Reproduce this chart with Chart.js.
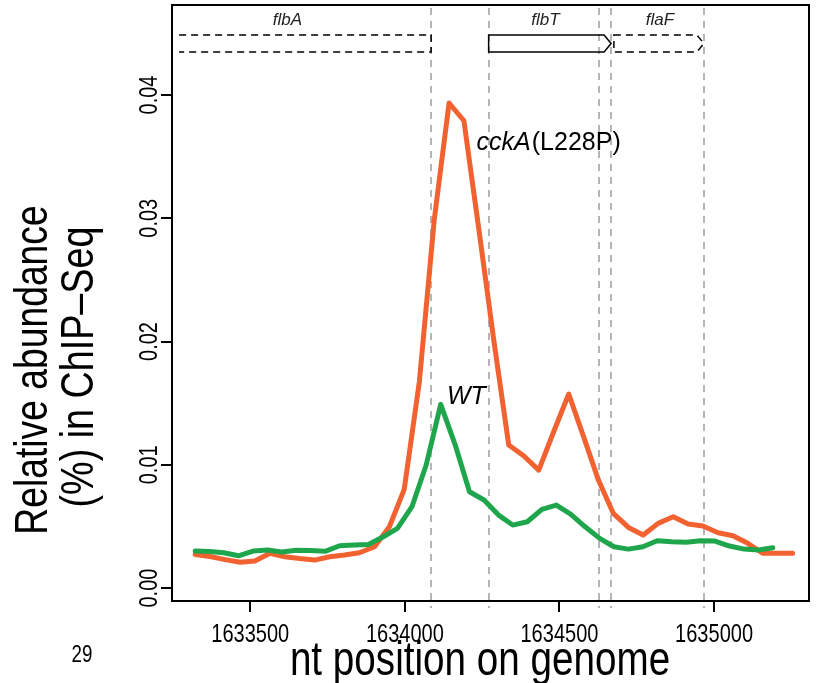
<!DOCTYPE html>
<html><head><meta charset="utf-8">
<script src="https://cdn.jsdelivr.net/npm/chart.js@4/dist/chart.umd.min.js"></script>
<style>html,body{margin:0;padding:0;background:#fff;}canvas{display:block}</style>
</head><body>
<canvas id="c" width="817" height="683"></canvas>
<script>
// ---- data ----
const wtPos = [1633322,1633369,1633415,1633462,1633509,1633556,1633602,1633649,1633696,1633742,
  1633789,1633836,1633882,1633929,1633976,1634023,1634069,1634116,1634163,1634209,
  1634256,1634303,1634349,1634396,1634443,1634490,1634536,1634583,1634630,1634676,
  1634723,1634770,1634816,1634863,1634910,1634957,1635003,1635050,1635097,1635143,1635190];
const wtVal = [0.00300,0.00296,0.00286,0.00262,0.00300,0.00308,0.00292,0.00306,0.00304,0.00298,
  0.00343,0.00349,0.00353,0.00414,0.00484,0.00660,0.00998,0.01490,0.01160,0.00781,
  0.00714,0.00592,0.00511,0.00538,0.00639,0.00673,0.00600,0.00497,0.00403,0.00335,
  0.00316,0.00335,0.00384,0.00376,0.00371,0.00384,0.00381,0.00341,0.00316,0.00308,0.00327];
const mutPos = [1633322,1633370,1633419,1633467,1633515,1633564,1633612,1633660,1633708,1633757,
  1633805,1633853,1633902,1633950,1633998,1634047,1634095,1634143,1634191,1634240,
  1634288,1634336,1634385,1634433,1634481,1634530,1634578,1634626,1634674,1634723,
  1634771,1634819,1634868,1634916,1634964,1635013,1635061,1635109,1635157,1635206,1635254];
const mutVal = [0.00273,0.00256,0.00231,0.00209,0.00219,0.00282,0.00254,0.00239,0.00227,0.00254,
  0.00268,0.00286,0.00335,0.00497,0.00801,0.01675,0.02986,0.03935,0.03791,0.02897,
  0.02004,0.01160,0.01071,0.00957,0.01266,0.01574,0.01228,0.00876,0.00606,0.00492,
  0.00430,0.00525,0.00579,0.00519,0.00503,0.00449,0.00424,0.00363,0.00282,0.00282,0.00282];
const xTicks = [1633500, 1634000, 1634500, 1635000];
const yTicks = [0, 0.01, 0.02, 0.03, 0.04];
const boundaryPos = [1634085, 1634271, 1634629, 1634667, 1634967];
const geneNames = ['flbA', 'flbT', 'flaF'];
const geneStart = [1633270, 1634271, 1634676];
const geneEnd = [1634085, 1634667, 1634967];
const geneLabelPos = [1633620, 1634455, 1634825];
const seriesNames = ['WT', 'cckA'];

const SANS = "'Liberation Sans', Arial, sans-serif";

// condensed text helper (reference uses a narrow Helvetica)
function narrowText(ctx, text, cx, cy, size, sx, rot) {
  ctx.save();
  ctx.translate(cx, cy);
  ctx.rotate(rot || 0);
  ctx.scale(sx, 1);
  ctx.font = size + 'px ' + SANS;
  ctx.fillStyle = '#000';
  ctx.textAlign = 'center';
  ctx.textBaseline = 'alphabetic';
  ctx.fillText(text, 0, 0.358 * size);
  ctx.restore();
}

const annot = {
  id: 'annot',
  beforeDatasetsDraw(chart) {
    const {ctx, chartArea: a, scales: {x, y}} = chart;
    ctx.save();
    ctx.strokeStyle = '#b5b5b5';
    ctx.lineWidth = 2;
    ctx.setLineDash([7, 6]);
    boundaryPos.forEach(p => {
      const px = Math.round(x.getPixelForValue(p));
      ctx.beginPath();
      ctx.moveTo(px, a.top + 3);
      ctx.lineTo(px, a.bottom + 7);
      ctx.stroke();
    });
    const yT = y.getPixelForValue(0.04487), yB = y.getPixelForValue(0.04349), yM = (yT + yB) / 2;
    const ah = 7;
    ctx.strokeStyle = '#000';
    ctx.lineWidth = 1.5;
    geneNames.forEach((g, i) => {
      const x1 = x.getPixelForValue(geneStart[i]);
      const x2 = x.getPixelForValue(geneEnd[i]);
      ctx.setLineDash(i === 1 ? [] : [7, 5]);
      ctx.beginPath();
      if (i === 0) {
        ctx.moveTo(x1, yT); ctx.lineTo(x2, yT); ctx.lineTo(x2, yB); ctx.lineTo(x1, yB);
      } else {
        ctx.moveTo(x1, yT); ctx.lineTo(x2 - ah, yT); ctx.lineTo(x2, yM);
        ctx.lineTo(x2 - ah, yB); ctx.lineTo(x1, yB); ctx.closePath();
      }
      ctx.stroke();
      ctx.setLineDash([]);
      ctx.fillStyle = '#222';
      ctx.font = "italic 17px " + SANS;
      ctx.textAlign = 'center';
      ctx.textBaseline = 'middle';
      ctx.fillText(g, x.getPixelForValue(geneLabelPos[i]), y.getPixelForValue(0.04608));
    });
    ctx.restore();
  },
  afterDatasetsDraw(chart) {
    const {ctx, chartArea: a, scales: {x, y}} = chart;
    ctx.save();
    ctx.fillStyle = '#000';
    ctx.textBaseline = 'alphabetic';
    ctx.textAlign = 'left';
    ctx.font = "italic 25px " + SANS;
    const px = x.getPixelForValue(1634232), py = y.getPixelForValue(0.03554);
    ctx.fillText(seriesNames[1], px, py);
    const w = ctx.measureText(seriesNames[1]).width;
    ctx.font = "25px " + SANS;
    ctx.fillText('(L228P)', px + w + 1, py);
    ctx.font = "italic 25px " + SANS;
    ctx.fillText(seriesNames[0], x.getPixelForValue(1634136), y.getPixelForValue(0.01493));
    ctx.strokeStyle = '#000';
    ctx.lineWidth = 2;
    ctx.strokeRect(a.left, a.top, a.right - a.left, a.bottom - a.top);
    ctx.restore();
  },
  afterDraw(chart) {
    const {ctx, scales: {x, y}} = chart;
    // tick labels from the library's scales
    x.ticks.forEach(t => narrowText(ctx, String(t.value), x.getPixelForValue(t.value), 633, 26, 0.77, 0));
    y.ticks.forEach(t => narrowText(ctx, Number(t.value).toFixed(2), 148, y.getPixelForValue(t.value), 26, 0.77, -Math.PI / 2));
    // axis titles
    narrowText(ctx, 'Relative abundance', 31, 370, 46, 0.81, -Math.PI / 2);
    narrowText(ctx, '(%) in ChIP\u2013Seq', 77, 367, 46, 0.82, -Math.PI / 2);
    ctx.save();
    ctx.translate(480, 675);
    ctx.scale(0.805, 1);
    ctx.font = '48px ' + SANS;
    ctx.fillStyle = '#000';
    ctx.textAlign = 'center';
    ctx.textBaseline = 'alphabetic';
    ctx.fillText('nt position on genome', 0, 0);
    ctx.restore();
    narrowText(ctx, '29', 82, 653, 24, 0.78, 0);
  }
};

new Chart(document.getElementById('c'), {
  type: 'line',
  data: {
    datasets: [
      { label: 'WT', data: wtPos.map((p, i) => ({x: p, y: wtVal[i]})),
        borderColor: '#1fa64c', borderWidth: 5, pointRadius: 0, tension: 0,
        borderCapStyle: 'round', borderJoinStyle: 'round', fill: false },
      { label: 'cckA(L228P)', data: mutPos.map((p, i) => ({x: p, y: mutVal[i]})),
        borderColor: '#f26130', borderWidth: 5, pointRadius: 0, tension: 0,
        borderCapStyle: 'round', borderJoinStyle: 'round', fill: false }
    ]
  },
  options: {
    responsive: false,
    animation: false,
    devicePixelRatio: 1,
    layout: { padding: { left: 112, right: 8, top: 5, bottom: 0 } },
    plugins: { legend: { display: false }, tooltip: { enabled: false } },
    scales: {
      x: {
        type: 'linear', min: 1633247, max: 1635307,
        afterBuildTicks: s => { s.ticks = xTicks.map(v => ({value: v})); },
        afterFit: s => { s.height = 82; },
        grid: { drawOnChartArea: false, drawTicks: true, tickLength: 11, color: '#000', lineWidth: 2 },
        border: { display: false },
        ticks: { display: false, autoSkip: false, maxRotation: 0 }
      },
      y: {
        type: 'linear', min: -0.00105, max: 0.0473,
        afterBuildTicks: s => { s.ticks = yTicks.map(v => ({value: v})); },
        afterFit: s => { s.width = 60; },
        grid: { drawOnChartArea: false, drawTicks: true, tickLength: 11, color: '#000', lineWidth: 2 },
        border: { display: false },
        ticks: { display: false, autoSkip: false }
      }
    }
  },
  plugins: [annot]
});
</script>
</body></html>
